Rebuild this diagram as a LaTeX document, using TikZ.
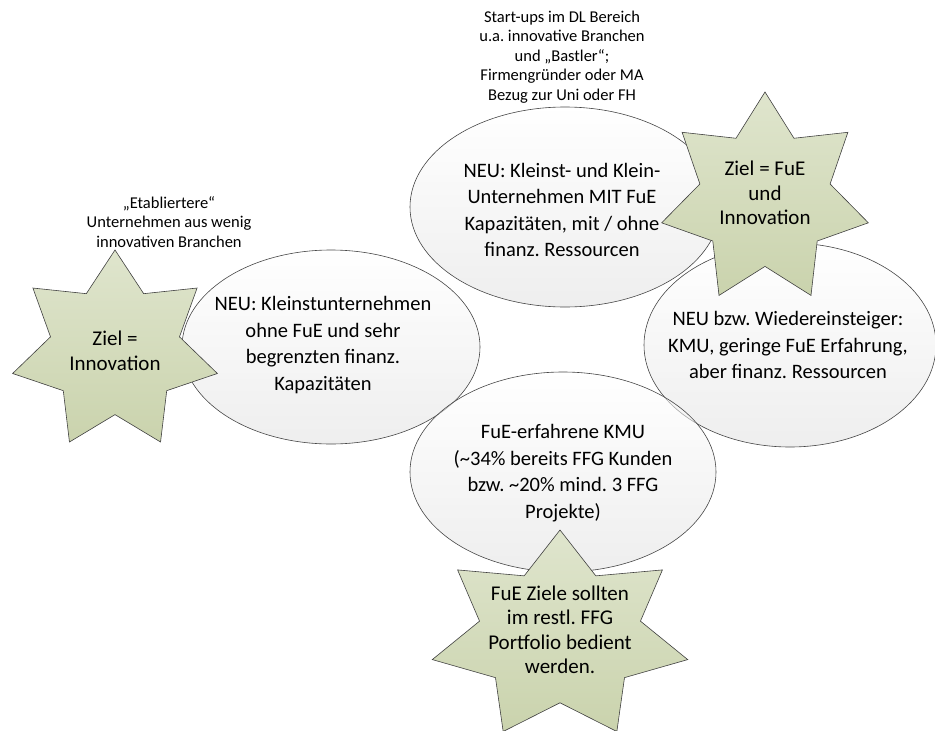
\documentclass[tikz,border=0pt]{standalone}
\usepackage{fontspec}
\setmainfont{Carlito}
\usetikzlibrary{shapes.geometric}
\definecolor{kreisrand}{HTML}{464646}
\definecolor{kreisunten}{HTML}{E0E0E0}
\definecolor{sternoben}{HTML}{DFE5CD}
\definecolor{sternunten}{HTML}{CAD3AD}
\definecolor{sternrand}{HTML}{404040}
\frenchspacing

\begin{document}
\begin{tikzpicture}[
  x=1pt,y=-1pt,
  every node/.style={align=center,text=black,inner sep=0pt},
  kreis/.style={draw=kreisrand,line width=0.6pt,top color=white,
               bottom color=kreisunten,fill opacity=0.55},
  stern/.style={draw=sternrand,line width=0.6pt,top color=sternoben,
               bottom color=sternunten,line join=miter},
  kreistext/.style={font=\fontsize{20.5}{26.5}\selectfont},
  sterntext/.style={font=\fontsize{21}{24.5}\selectfont},
  notiz/.style={font=\fontsize{16.5}{19.5}\selectfont}
]
\useasboundingbox (0,0) rectangle (935,731);

% vier Zielgruppen
\draw[kreis] (565,207) ellipse [x radius=155,y radius=100];
\draw[kreis] (331,347) ellipse [x radius=149,y radius=97];
\draw[kreis] (790,345) ellipse [x radius=146,y radius=102];
\draw[kreis] (563,472) ellipse [x radius=153,y radius=100];

\node[kreistext] (kleinmitfue) at (562,210) {NEU: Kleinst- und Klein-\\Unternehmen MIT FuE\\Kapazitäten, mit / ohne\\finanz. Ressourcen};
\node[kreistext] (kleinstohne) at (323,345) {NEU: Kleinstunternehmen\\ohne FuE und sehr\\begrenzten finanz.\\Kapazitäten};
\node[kreistext] (wiedereinst) at (788,345) {NEU bzw. Wiedereinsteiger:\\KMU, geringe FuE Erfahrung,\\aber finanz. Ressourcen};
\node[kreistext] (fueerfahren) at (563,473) {FuE-erfahrene KMU\\(\textasciitilde34\% bereits FFG Kunden\\bzw. \textasciitilde20\% mind. 3 FFG\\Projekte)};

% Sterne (7 Zacken)
\foreach \cx/\cy/\rx/\ry in {115/351/105/101, 765/199/106/107, 560/636/131/106}
  \draw[stern,shift={(\cx,\cy)}] (0,-\ry)
    \foreach \k in {1,...,13}{
      -- ({\rx*(1-0.37*mod(\k,2))*sin(\k*360/14)},{-\ry*(1-0.37*mod(\k,2))*cos(\k*360/14)})
    } -- cycle;

\node[sterntext] (zielinno) at (115,351) {Ziel =\\Innovation};
\node[sterntext] (zielfue) at (765,193) {Ziel = FuE\\und\\Innovation};
\node[sterntext] (zielrest) at (560,630) {FuE Ziele sollten\\im restl. FFG\\Portfolio bedient\\werden.};

% Anmerkungen
\node[notiz] (startups) at (562,57) {Start-ups im DL Bereich\\u.a. innovative Branchen\\und „Bastler“;\\Firmengründer oder MA\\Bezug zur Uni oder FH};
\node[notiz] (etabliert) at (169,222) {„Etabliertere“\\Unternehmen aus wenig\\innovativen Branchen};
\end{tikzpicture}
\end{document}
